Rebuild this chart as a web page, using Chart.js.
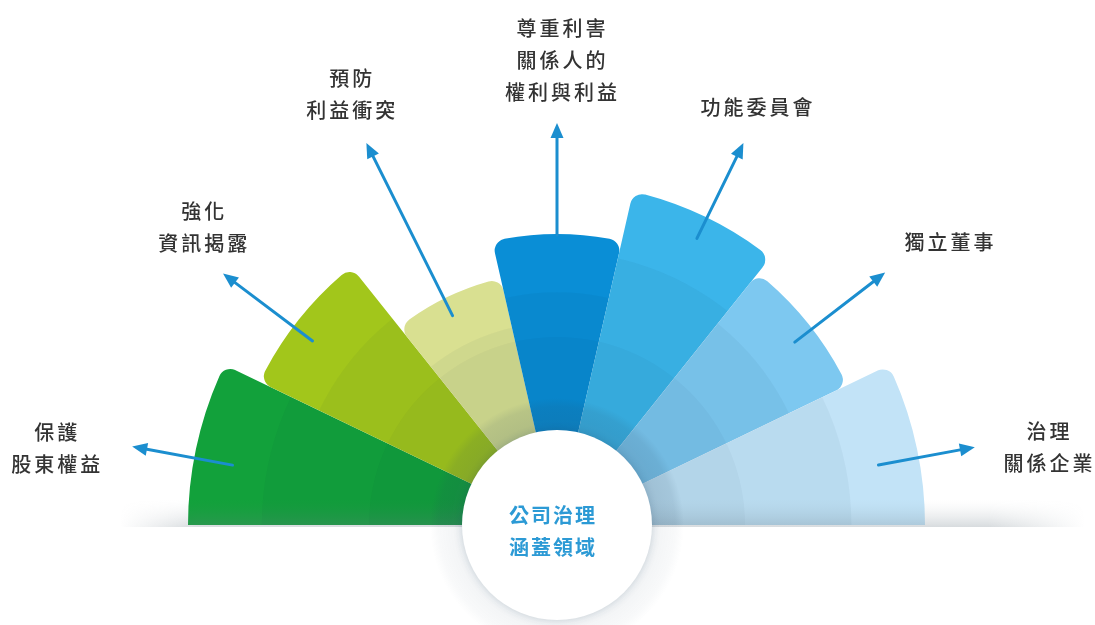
<!DOCTYPE html>
<html>
<head>
<meta charset="utf-8">
<script src="https://cdn.jsdelivr.net/npm/chart.js@4.4.1/dist/chart.umd.min.js"></script>
<style>
  html, body { margin: 0; padding: 0; background: #fff; }
  #wrap { position: relative; width: 1095px; height: 625px; overflow: hidden; }
  #govChart { position: absolute; left: 0; top: 0; }
</style>
</head>
<body>
<div id="wrap">
  <canvas id="govChart" width="1114" height="1050"></canvas>
</div>
<script>
// categories (one line per entry)
const categories = [
  ['保護', '股東權益'],
  ['強化', '資訊揭露'],
  ['預防', '利益衝突'],
  ['尊重利害', '關係人的', '權利與利益'],
  ['功能委員會'],
  ['獨立董事'],
  ['治理', '關係企業']
];
// sector length (scale units = px)
const sectorValues = [369, 330, 253, 291, 342, 322, 368];
const sectorColors = ['#12a13b', '#a2c61b', '#d9e091', '#0a8ed6', '#3bb5ea', '#7dc8f0', '#c2e3f7'];
const centerTitle = ['公司治理', '涵蓋領域'];

// arrows + labels layout
const arrowFrom = [330, 306, 234, 290, 319, 300, 327];
const arrowTo = [432, 418, 427, 402, 425, 414, 425];
const arrowTurn = [2.4, 1.6, 0.8, 0, -0.3, -1.0, -2.3];
const labelDist = [507, 463, 477, 465, 463, 483, 497];
const labelTurn = [4.2, -1.5, -0.1, -0.5, 0.2, -2.8, -3.9];

const FONT = '"Noto Sans CJK TC", "Noto Sans CJK SC", sans-serif';

function polar(scale, ang, val) {
  const d = scale.getDistanceFromCenterForValue(val);
  return { x: scale.xCenter + d * Math.cos(ang), y: scale.yCenter + d * Math.sin(ang) };
}

function drawHalo(ctx, cx, cy, top, a0, a1) {
  ctx.save();
  ctx.beginPath();
  if (top) ctx.rect(cx - 200, cy - 200, 400, 200);
  else ctx.rect(cx - 200, cy, 400, 200);
  ctx.clip();
  const halo = ctx.createRadialGradient(cx, cy, 92, cx, cy, 127);
  halo.addColorStop(0, 'rgba(40,70,95,' + a0 + ')');
  halo.addColorStop(0.75, 'rgba(40,70,95,' + a1 + ')');
  halo.addColorStop(1, 'rgba(40,70,95,0)');
  ctx.fillStyle = halo;
  ctx.beginPath();
  ctx.arc(cx, cy, 127, 0, Math.PI * 2);
  ctx.fill();
  ctx.restore();
}

const decoPlugin = {
  id: 'deco',
  afterDatasetsDraw(chart) {
    const ctx = chart.ctx;
    const scale = chart.scales.r;
    const cx = scale.xCenter, cy = scale.yCenter;
    const arcs = chart.getDatasetMeta(0).data;

    // inner shading bands inside each sector
    arcs.forEach(arc => {
      const p = arc.getProps(['startAngle', 'endAngle', 'outerRadius']);
      ctx.save();
      ctx.beginPath();
      ctx.moveTo(cx, cy);
      ctx.arc(cx, cy, p.outerRadius, p.startAngle, p.endAngle);
      ctx.closePath();
      ctx.clip();
      ctx.fillStyle = 'rgba(0,40,70,0.045)';
      ctx.beginPath();
      ctx.arc(cx, cy, p.outerRadius * 0.8, 0, Math.PI * 2);
      ctx.fill();
      ctx.fillStyle = 'rgba(0,40,70,0.03)';
      ctx.beginPath();
      ctx.arc(cx, cy, 188, 0, Math.PI * 2);
      ctx.fill();
      ctx.restore();
    });

    // ground shadow along the base line
    const x0 = 120, x1 = 1085;
    for (let y = 498; y < cy + 2; y++) {
      const a = Math.pow((y - 498) / (cy + 2 - 498), 1.6) * 0.28;
      const g = ctx.createLinearGradient(x0, 0, x1, 0);
      g.addColorStop(0, 'rgba(110,125,135,0)');
      g.addColorStop(0.08, 'rgba(110,125,135,' + a + ')');
      g.addColorStop(0.9, 'rgba(110,125,135,' + a + ')');
      g.addColorStop(1, 'rgba(110,125,135,0)');
      ctx.fillStyle = g;
      ctx.fillRect(x0, y, x1 - x0, 1);
    }

    // halo ring round the centre disc: darker over the sectors, faint below
    drawHalo(ctx, cx, cy, true, 0.16, 0.1);
    drawHalo(ctx, cx, cy, false, 0.07, 0.03);

    // centre disc
    ctx.save();
    ctx.shadowColor = 'rgba(30,70,100,0.22)';
    ctx.shadowBlur = 8;
    ctx.fillStyle = '#fff';
    ctx.beginPath();
    ctx.arc(cx, cy, 95, 0, Math.PI * 2);
    ctx.fill();
    ctx.restore();

    ctx.save();
    ctx.fillStyle = '#2c9ad5';
    ctx.font = 'bold 20px ' + FONT;
    ctx.letterSpacing = '2px';
    ctx.textAlign = 'center';
    ctx.textBaseline = 'middle';
    ctx.fillText(centerTitle[0], cx - 4, cy - 10);
    ctx.fillText(centerTitle[1], cx - 4, cy + 22);
    ctx.restore();

    // arrows and labels
    arcs.forEach((arc, i) => {
      const p = arc.getProps(['startAngle', 'endAngle']);
      const mid = (p.startAngle + p.endAngle) / 2;
      const aa = mid - arrowTurn[i] * Math.PI / 180;
      const a = polar(scale, aa, arrowFrom[i]);
      const b = polar(scale, aa, arrowTo[i]);
      const dir = Math.atan2(b.y - a.y, b.x - a.x);
      const headLen = 15, headW = 6.5;
      const bx = b.x - headLen * Math.cos(dir), by = b.y - headLen * Math.sin(dir);

      ctx.save();
      ctx.strokeStyle = '#1b8ecf';
      ctx.fillStyle = '#1b8ecf';
      ctx.lineWidth = 3;
      ctx.lineCap = 'round';
      ctx.beginPath();
      ctx.moveTo(a.x, a.y);
      ctx.lineTo(bx, by);
      ctx.stroke();
      ctx.beginPath();
      ctx.moveTo(b.x, b.y);
      ctx.lineTo(bx + headW * Math.sin(dir), by - headW * Math.cos(dir));
      ctx.lineTo(bx - headW * Math.sin(dir), by + headW * Math.cos(dir));
      ctx.closePath();
      ctx.fill();
      ctx.restore();

      const la = mid - labelTurn[i] * Math.PI / 180;
      const lp = polar(scale, la, labelDist[i]);
      const lines = categories[i];
      const lh = 32;
      ctx.save();
      ctx.fillStyle = '#333';
      ctx.font = '500 20px ' + FONT;
      ctx.letterSpacing = '3px';
      ctx.textAlign = 'center';
      ctx.textBaseline = 'middle';
      lines.forEach((t, k) => {
        ctx.fillText(t, lp.x + 1.5, lp.y + (k - (lines.length - 1) / 2) * lh);
      });
      ctx.restore();
    });
  }
};

const lastIdx = sectorValues.length - 1;

new Chart(document.getElementById('govChart'), {
  type: 'polarArea',
  data: {
    labels: categories.map(c => c.join('')),
    datasets: [{
      data: sectorValues,
      backgroundColor: sectorColors,
      borderWidth: 0,
      angle: 180 / sectorValues.length,
      // keep the corners square where a sector sits on the base line
      borderRadius: (c) => ({
        outerStart: c.dataIndex === 0 ? 0 : 12,
        outerEnd: c.dataIndex === lastIdx ? 0 : 12,
        innerStart: 0,
        innerEnd: 0
      })
    }]
  },
  options: {
    responsive: false,
    animation: false,
    layout: { padding: 0 },
    plugins: { legend: { display: false }, tooltip: { enabled: false } },
    scales: {
      r: {
        min: 0,
        max: 525,
        startAngle: -90,
        ticks: { display: false },
        grid: { display: false },
        angleLines: { display: false },
        pointLabels: { display: false }
      }
    }
  },
  plugins: [decoPlugin]
});
</script>
</body>
</html>
